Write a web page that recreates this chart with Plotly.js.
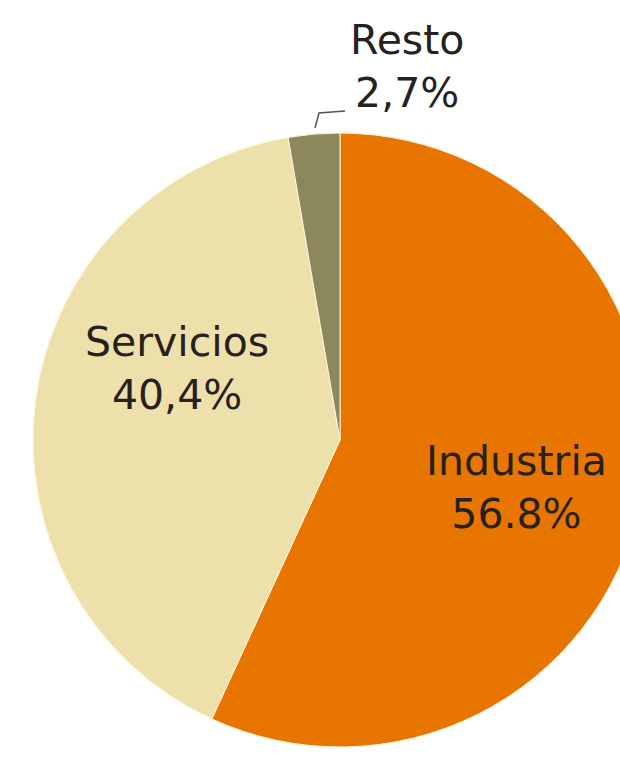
<!DOCTYPE html>
<html>
<head>
<meta charset="utf-8">
<script src="https://cdn.plot.ly/plotly-3.0.1.min.js"></script>
<style>
html,body{margin:0;padding:0;overflow:hidden;background:#fff;width:620px;height:757px;}
#chart{width:680px;height:757px;}
</style>
</head>
<body>
<div id="chart"></div>
<script>
// Data
var categories = ["Industria", "Servicios", "Resto"];
var shares = [56.8, 40.4, 2.7];
var shareLabels = ["56.8%", "40,4%", "2,7%"];
var colors = ["#E87500", "#EDE0AA", "#8C885B"];

// Layout geometry (pixels)
var W = 680, H = 757, T = 133, B = 10;
function px(x){ return x / W; }
function py(y){ return (H - B - y) / (H - T - B); }

var labelPos = [
  {x: 516, y: 487},
  {x: 177, y: 368},
  {x: 407, y: 67}
];

var annotations = categories.map(function(c, i){
  return {
    xref: "paper", yref: "paper", x: px(labelPos[i].x), y: py(labelPos[i].y),
    text: c + "<br>" + shareLabels[i], showarrow: false,
    xanchor: "center", yanchor: "middle", align: "center",
    font: {family: "DejaVu Sans", size: 41, color: "#26211d"}
  };
});

var data = [{
  type: "pie",
  labels: categories,
  values: shares,
  sort: false,
  direction: "clockwise",
  rotation: 0,
  textinfo: "none",
  hoverinfo: "none",
  marker: {colors: colors, line: {color: "#fff6e0", width: 1}},
  domain: {x: [0, 1], y: [0, 1]}
}];

var layout = {
  width: W, height: H,
  margin: {l: 0, r: 0, t: T, b: B, pad: 0},
  paper_bgcolor: "#ffffff",
  showlegend: false,
  annotations: annotations,
  shapes: [{
    type: "path", xref: "paper", yref: "paper",
    path: "M " + px(315) + " " + py(128) + " L " + px(319) + " " + py(113) + " L " + px(345) + " " + py(111),
    line: {color: "#555555", width: 1.5}
  }]
};

Plotly.newPlot("chart", data, layout, {staticPlot: true, displayModeBar: false});
</script>
</body>
</html>
